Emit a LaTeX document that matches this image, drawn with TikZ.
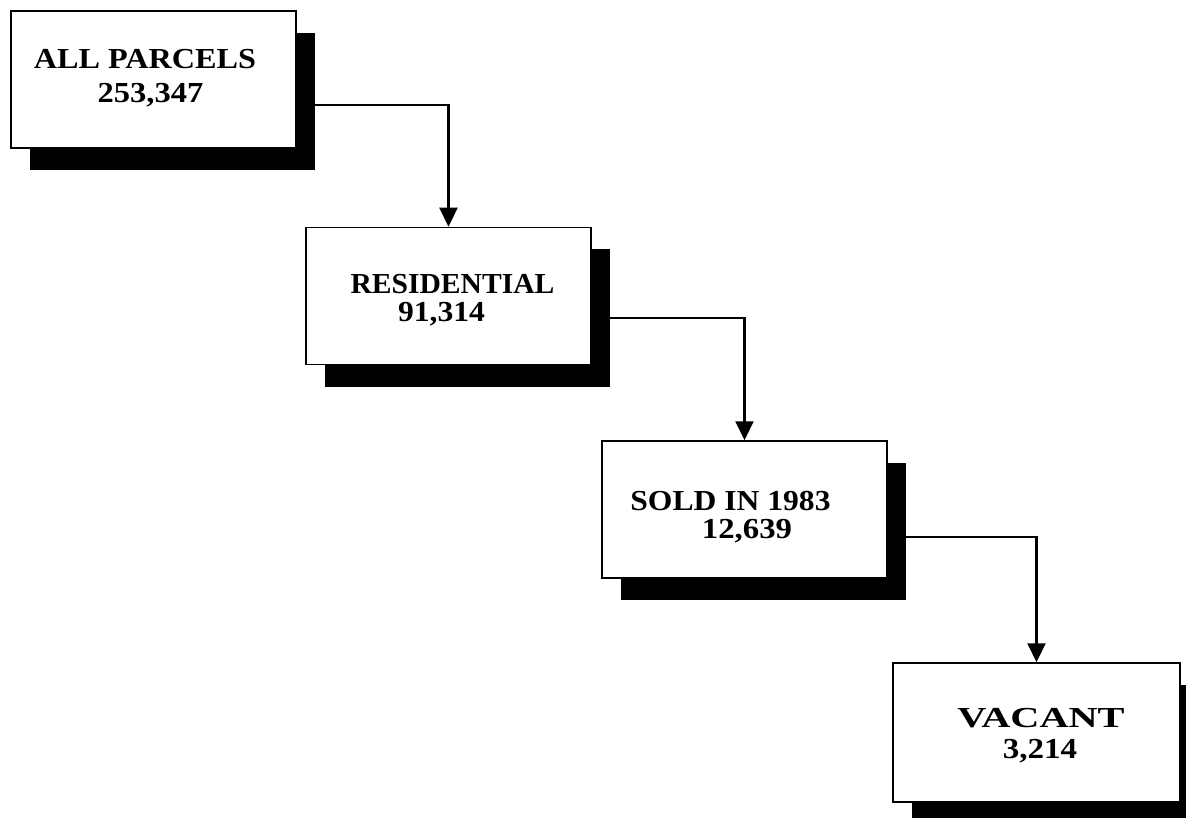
\documentclass[tikz,border=0pt]{standalone}
\usepackage{fontspec}
\setmainfont{Liberation Serif}
\usepackage{graphicx}
\usetikzlibrary{arrows.meta}
\newcommand{\sline}[2]{\scalebox{#1}[1]{#2}}
\tikzset{
  box/.style={draw, line width=1.5pt, fill=white, rectangle, minimum width=285pt, minimum height=137pt, inner sep=0pt},
  shadowbox/.style={fill=black, rectangle, minimum width=285pt, minimum height=137pt, inner sep=0pt},
  lbl/.style={anchor=base, inner sep=0pt, font=\fontsize{29pt}{31pt}\selectfont\bfseries},
  arr/.style={line width=2.2pt, -{Triangle[width=18pt,length=19pt]}}
}
\begin{document}
\begin{tikzpicture}[x=1pt, y=-1pt]
\useasboundingbox (0,0) rectangle (1186,818);
\clip (0,0) rectangle (1186,818);
% shadows
\node[shadowbox] (s1) at (172.5,101.5) {};
\node[shadowbox] (s2) at (467.5,318) {};
\node[shadowbox] (s3) at (763.5,531.5) {};
\node[shadowbox, minimum width=287pt, minimum height=139pt] (s4) at (1055.5,754.5) {};
% boxes
\node[box] (b1) at (153.5,79.5) {};
\node[box] (b2) at (448.5,296) {};
\node[box] (b3) at (744.5,509.5) {};
\node[box, minimum width=287pt, minimum height=139pt] (b4) at (1036.5,732.5) {};
% texts
\node[lbl] (t1a) at (145,69) {\sline{1.11}{ALL PARCELS}};
\node[lbl] (t1b) at (150.5,103) {\sline{1.12}{253,347}};
\node[lbl] (t2a) at (452.5,294) {\sline{1.02}{RESIDENTIAL}};
\node[lbl] (t2b) at (441.5,322) {\sline{1.09}{91,314}};
\node[lbl] (t3a) at (730.5,510) {\sline{1.09}{SOLD IN 1983}};
\node[lbl] (t3b) at (747,538) {\sline{1.13}{12,639}};
\node[lbl] (t4a) at (1041,727) {\sline{1.39}{VACANT}};
\node[lbl] (t4b) at (1040,758) {\sline{1.14}{3,214}};
% connectors
\draw[arr] ([yshift=-3.5pt]s1.east) -| (b2.north);
\draw[arr] (s2.east) -| (b3.north);
\draw[arr] ([yshift=-5.5pt]s3.east) -| (b4.north);
\end{tikzpicture}
\end{document}
